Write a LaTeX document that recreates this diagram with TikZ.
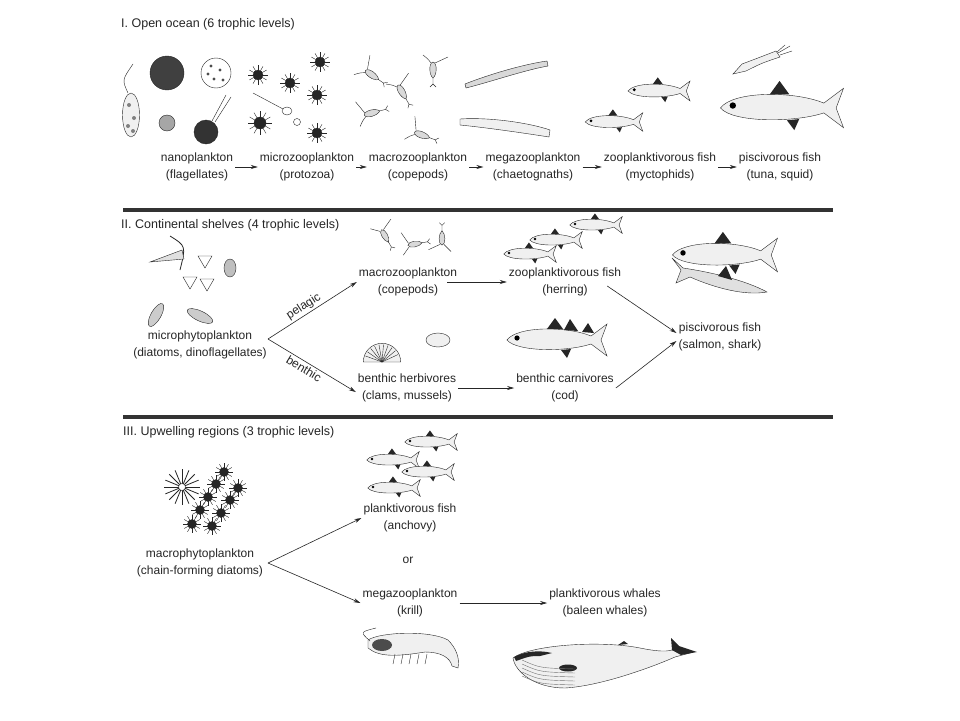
\documentclass[tikz,border=0pt]{standalone}
\usepackage{fontspec}
\setmainfont{Liberation Sans}
\usetikzlibrary{arrows.meta}

\tikzset{
  lbl/.style={align=center, text=black!85, inner sep=2pt,
    font=\fontsize{12}{17.5}\selectfont},
  sectitle/.style={anchor=west, text=black!85, inner sep=0pt,
    font=\fontsize{12.5}{15}\selectfont},
  flow/.style={-{Stealth[length=7pt, width=4pt]}, semithick, black!85},
  divider/.style={line width=3.5pt, black!80},
  ink/.style={black!85, fill=black!6},
  % small drawings of the organisms
  fish/.pic={
    \draw[ink] (-25,0) .. controls (-20,-7) and (5,-7) .. (17,-2)
      -- (25,-8) -- (22,0) -- (25,8) -- (17,2)
      .. controls (5,6) and (-20,6) .. (-25,0) -- cycle;
    \fill[black!85] (-5,-5.5) -- (-1,-11) -- (3,-5.5) -- cycle;
    \fill[black!85] (2,5) -- (5,9) -- (7,4.5) -- cycle;
    \fill (-20,-1) circle (1.3);
  },
  cell/.pic={
    \foreach \a in {0,30,...,330} \draw[black!85] (0,0) -- (\a:10);
    \draw[black!85, pic actions] (0,0) circle (5);
  },
  copepod/.pic={
    \draw[black!85, fill=black!15] (-8,0) .. controls (-7,-4.5) and (5,-4) .. (8,0)
      .. controls (5,4) and (-7,4.5) .. (-8,0) -- cycle;
    \draw[black!85] (8,0) -- (14,0) (14,0) -- (17,-3) (14,0) -- (17,3);
    \draw[black!85] (-7,-2) .. controls (-10,-8) .. (-13,-15);
    \draw[black!85] (-7,2) .. controls (-11,5) .. (-15,10);
  },
  clam/.pic={
    \draw[ink] (-17,0) arc[start angle=180, end angle=360, radius=17] -- cycle;
    \foreach \a in {200,215,...,340} \draw[black!85] (0,0) -- (\a:16);
  }
}

\begin{document}
\begin{tikzpicture}[x=1pt, y=-1pt]
\useasboundingbox[fill=white] (0,0) rectangle (960,720);

\draw[divider] (123,210) -- (833,210);
\draw[divider] (123,417) -- (833,417);

% I. open ocean
\node[sectitle] (title1) at (121,24) {I. Open ocean (6 trophic levels)};
\node[lbl] (nano) at (197,167) {nanoplankton\\(flagellates)};
\node[lbl] (microzoo) at (307,167) {microzooplankton\\(protozoa)};
\node[lbl] (macrozoo) at (418,167) {macrozooplankton\\(copepods)};
\node[lbl] (megazoo) at (533,167) {megazooplankton\\(chaetognaths)};
\node[lbl] (zoofish) at (660,167) {zooplanktivorous fish\\(myctophids)};
\node[lbl] (piscfish) at (780,167) {piscivorous fish\\(tuna, squid)};

\draw[flow] (nano) -- (microzoo);
\draw[flow] (microzoo) -- (macrozoo);
\draw[flow] (macrozoo) -- (megazoo);
\draw[flow] (megazoo) -- (zoofish);
\draw[flow] (zoofish) -- (piscfish);

% flagellates
\draw[ink] (131,115) ellipse (8.5 and 22);
\draw[black!85] (128,93) .. controls (122,80) .. (133,64);
\foreach \x/\y in {129/105, 134/118, 128/126, 133/131} \fill[black!50] (\x,\y) circle (2);
\draw[black!85, fill=black!75] (167,73) circle (17);
\draw[black!85, fill=white] (216,73) circle (15);
\foreach \x/\y in {211/66, 220/70, 214/79, 223/80, 208/74} \fill[black!70] (\x,\y) circle (1.6);
\draw[black!85, fill=black!35] (167,123) circle (8);
\draw[black!85, fill=black!80] (206,132) circle (12);
\draw[black!85] (212,121) -- (226,95) (215,122) -- (231,97);

% protozoa
\pic[fill=white] at (258,75) {cell};
\pic[fill=black!75] at (290,83) {cell};
\pic[fill=black!75] at (320,62) {cell};
\pic[fill=black!75] at (317,95) {cell};
\pic[fill=white, scale=1.2] at (260,123) {cell};
\pic[fill=black!75] at (317,133) {cell};
\draw[black!85] (253,93) -- (283,109);
\draw[black!85, fill=white] (287,111) ellipse (5 and 4);
\draw[black!85, fill=white] (297,122) circle (3.5);

% copepods
\foreach \x/\y/\r in {372/75/-35, 402/92/-60, 433/70/-90, 372/113/15, 422/135/-20}
  \pic[rotate=\r] at (\x,\y) {copepod};

% chaetognaths
\draw[ink, fill=black!15] (465,84) .. controls (490,74) and (525,64) .. (547,61)
  -- (548,66) .. controls (525,70) and (490,82) .. (466,88) -- cycle;
\draw[ink] (460,119) .. controls (490,117) and (530,123) .. (550,130)
  -- (549,137) .. controls (530,134) and (490,128) .. (460,125) -- cycle;

% myctophids, tuna, squid
\pic[scale=1.24] at (659,91) {fish};
\pic[scale=1.15] at (614,122) {fish};
\pic[scale=2.46] at (782,108) {fish};
\draw[ink] (733,74) -- (742,64) .. controls (758,58) .. (776,51)
  -- (780,57) .. controls (762,63) .. (746,71) -- cycle;
\draw[black!85] (778,53) -- (790,46) (780,55) -- (792,51) (777,52) -- (785,45);

% II. continental shelves
\node[sectitle] (title2) at (121,225) {II. Continental shelves (4 trophic levels)};
\node[lbl] (microphyto) at (200,345) {microphytoplankton\\(diatoms, dinoflagellates)};
\node[lbl] (macrozoo2) at (408,282) {macrozooplankton\\(copepods)};
\node[lbl] (herbiv) at (407,388) {benthic herbivores\\(clams, mussels)};
\node[lbl] (herring) at (565,282) {zooplanktivorous fish\\(herring)};
\node[lbl] (cod) at (565,388) {benthic carnivores\\(cod)};
\node[lbl] (salmon) at (720,337) {piscivorous fish\\(salmon, shark)};
\coordinate (split2) at (268,339);

\draw[flow] (split2) -- (macrozoo2.west) node[lbl, pos=0.45, above, sloped] {pelagic};
\draw[flow] (split2) -- ([yshift=-4pt]herbiv.west) node[lbl, pos=0.45, below, sloped] {benthic};
\draw[flow] ([xshift=-12pt]macrozoo2.east) -- (herring.west);
\draw[flow] (herbiv.east) -- (cod.west);
\draw[flow] ([xshift=-16pt, yshift=-4pt]herring.east) -- ([yshift=4pt]salmon.west);
\draw[flow] (cod.east) -- ([yshift=-4pt]salmon.west);

% diatoms, dinoflagellates
\draw[black!85, thick] (170,236) .. controls (186,246) .. (180,270);
\draw[ink, fill=black!12] (150,262) -- (182,250) -- (184,259) -- cycle;
\foreach \x/\y in {205/261, 190/282, 207/284}
  \draw[black!85, fill=white] (\x-7,\y-5) -- (\x+7,\y-5) -- (\x,\y+7) -- cycle;
\draw[ink, fill=black!25] (230,268) ellipse (6 and 9);
\draw[ink, fill=black!20, rotate around={60:(156,315)}] (156,315) ellipse (13 and 5);
\draw[ink, fill=black!20, rotate around={-25:(200,316)}] (200,316) ellipse (14 and 5);

% copepods, herring, clams, cod, salmon, shark
\foreach \x/\y/\r in {385/236/-60, 415/244/10, 442/238/90}
  \pic[rotate=\r, scale=0.9] at (\x,\y) {copepod};
\pic[scale=1.05] at (596,225) {fish};
\pic[scale=1.05] at (556,240) {fish};
\pic[scale=1.05] at (530,254) {fish};
\pic[scale=1.1] at (382,362) {clam};
\draw[ink] (438,340) ellipse (12 and 7);
\pic[scale=2] at (557,340) {fish};
\fill[black!85] (564,330) -- (570,319) -- (578,331) -- cycle;
\fill[black!85] (582,332) -- (588,323) -- (594,333) -- cycle;
\pic[scale=2.1] at (725,255) {fish};
\draw[ink, fill=black!12] (683,268) .. controls (710,272) and (745,280) .. (767,292)
  .. controls (745,296) and (715,288) .. (690,277) -- (676,283) -- (681,270)
  -- (672,258) -- cycle;
\fill[black!85] (718,276) -- (726,266) -- (732,280) -- cycle;

% III. upwelling regions
\node[sectitle] (title3) at (123,432) {III. Upwelling regions (3 trophic levels)};
\node[lbl] (macrophyto) at (200,563) {macrophytoplankton\\(chain-forming diatoms)};
\node[lbl] (anchovy) at (410,518) {planktivorous fish\\(anchovy)};
\node[lbl] (orword) at (408,560) {or};
\node[lbl] (krill) at (410,603) {megazooplankton\\(krill)};
\node[lbl] (whales) at (605,603) {planktivorous whales\\(baleen whales)};
\coordinate (split3) at (268,563);

\draw[flow] (split3) -- (anchovy.west);
\draw[flow] (split3) -- (krill.west);
\draw[flow] (krill.east) -- (whales.west);

% chain-forming diatoms
\foreach \a in {0,22.5,...,337.5} \draw[black!85, thick] (182,487) -- ++(\a:18);
\draw[black!85, fill=white] (182,487) circle (3.5);
\foreach \x/\y in {192/524, 200/510, 208/497, 216/484, 224/472, 212/526, 221/513, 230/500, 238/488}
  \pic[fill=black!70, scale=0.9] at (\x,\y) {cell};

% anchovy, krill, whale
\pic[scale=1.05] at (431,442) {fish};
\pic[scale=1.05] at (393,460) {fish};
\pic[scale=1.05] at (428,472) {fish};
\pic[scale=1.05] at (394,488) {fish};
\draw[ink] (368,640) .. controls (380,632) and (430,630) .. (448,640)
  .. controls (456,648) and (460,658) .. (458,668) -- (452,666)
  .. controls (450,657) and (440,652) .. (425,652)
  .. controls (400,656) and (380,658) .. (368,648) -- cycle;
\fill[black!70] (382,645) ellipse (10 and 6);
\foreach \x in {395,403,...,427} \draw[black!85] (\x,654) -- (\x-2,664);
\draw[black!85] (370,641) .. controls (360,632) .. (376,628);
\draw[ink] (513,658) .. controls (530,645) and (600,640) .. (640,648)
  .. controls (655,651) and (665,652) .. (672,650) -- (690,653) -- (675,657)
  .. controls (650,668) and (600,686) .. (565,688)
  .. controls (535,688) and (515,672) .. (513,658) -- cycle;
\fill[black!85] (672,650) -- (671,638) -- (679,646) -- (697,652) -- (681,655) -- cycle;
\fill[black!85] (568,668) ellipse (9 and 3.5);
\fill[black!85] (618,645) -- (624,641) -- (628,644) -- cycle;
\fill[black!85] (514,657) .. controls (525,651) and (540,650) .. (552,653)
  -- (540,656) .. controls (530,656) .. (516,661) -- cycle;
\foreach \y in {668,672,...,684} \draw[black!55] (522,\y-8) .. controls (540,\y) .. (575,\y+1);

\end{tikzpicture}
\end{document}
